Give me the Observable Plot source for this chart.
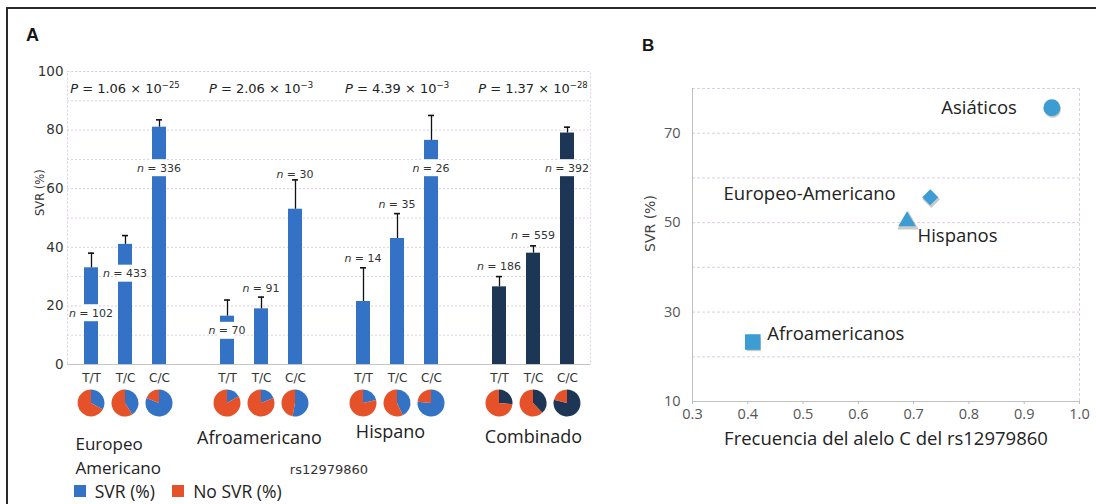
<!DOCTYPE html>
<html><head><meta charset="utf-8">
<script src="https://cdn.jsdelivr.net/npm/d3@7"></script>
<script src="https://cdn.jsdelivr.net/npm/@observablehq/plot@0.6"></script>
<style>
body{margin:0;background:#fff;}
#wrap{position:relative;width:1096px;height:504px;overflow:hidden;background:#fff;}
#border{position:absolute;left:6px;top:7px;right:-4px;bottom:-4px;border-top:2px solid #2a2a2a;border-left:2px solid #2a2a2a;pointer-events:none;}
.panel{position:absolute;top:0;}
#panelA{left:0;} #panelB{left:620px;}
.lbl{position:absolute;font:bold 18px "Liberation Sans",Arial,sans-serif;color:#151515;line-height:normal;}
#legend{position:absolute;left:74px;top:474px;}
</style></head><body>
<div id="wrap">
 <div id="panelA" class="panel"></div>
 <div id="panelB" class="panel"></div>
 <div id="legend"></div>
 <div class="lbl" style="left:26px;top:25px">A</div>
 <div class="lbl" style="left:642px;top:36px;font-size:17px">B</div>
 <div id="border"></div>
</div>
<script>
// ---------- Panel A data ----------
const groupNames = ["Europeo Americano", "Afroamericano", "Hispano", "Combinado"];
const groupLabels = ["Europeo\nAmericano", "Afroamericano", "Hispano", "Combinado"];
const genotypes = ["T/T", "T/C", "C/C"];
const svrPct = [[33, 41, 81], [16.5, 19, 53], [21.5, 43, 76.5], [26.5, 38, 79]];
const svrErrTop = [[38, 44, 83.5], [22, 23, 63], [33, 51.5, 85], [30, 40.5, 81]];
const nPatients = [[102, 433, 336], [70, 91, 30], [14, 35, 26], [186, 559, 392]];
const nLabelAt = [[17.5, 31, 67], [11.5, 26, 65], [36, 54.5, 67], [33.5, 44, 67]];
const pMantissa = ["1.06", "2.06", "4.39", "1.37"];
const pExponent = ["\u221225", "\u22123", "\u22123", "\u221228"];
const legendItems = ["SVR (%)", "No SVR (%)"];
const yTicksA = [0, 20, 40, 60, 80, 100];
const snpLabel = "rs12979860";

// ---------- Panel B data ----------
const populations = ["Asiáticos", "Europeo-Americano", "Hispanos", "Afroamericanos"];
const alleleFreqC = [0.95, 0.73, 0.688, 0.409];
const svrB = [75.7, 55.7, 50.3, 23.3];
const popSymbols = ["circle", "diamond2", "triangle", "square"];
const xTicksB = [0.3, 0.4, 0.5, 0.6, 0.7, 0.8, 0.9, 1.0];
const yTicksB = [10, 30, 50, 70];
const xLabelB = "Frecuencia del alelo C del rs12979860";

// ---------- styles ----------
const BLUE = "#3472c6", NAVY = "#1d3656", ORANGE = "#e5522a", PTBLUE = "#3d9dd3";
const GRID = "#dccfe3";
const fontA = "DejaVu Sans";
const fontC = "Open Sans";

// ---------- Panel A ----------
const rows = [];
groupNames.forEach((g, gi) => genotypes.forEach((gt, j) => rows.push({
  group: g, gi, geno: gt, key: g + "|" + gt,
  svr: svrPct[gi][j], upper: svrErrTop[gi][j], n: nPatients[gi][j], labelAt: nLabelAt[gi][j]
})));
const xDomain = [];
groupNames.forEach((g, gi) => {
  genotypes.forEach(gt => xDomain.push(g + "|" + gt));
  if (gi < groupNames.length - 1) xDomain.push("gap" + gi);
});
const barColor = d => d.gi === 3 ? NAVY : BLUE;
const groupRows = groupNames.map((g, gi) => ({gi, label: groupLabels[gi], first: g + "|T/T", mid: g + "|T/C"}));

function nLabelsMark(index, scales) {
  const g = d3.create("svg:g").attr("font-family", fontA).attr("font-size", 11).attr("fill", "#333");
  const bw = scales.x.bandwidth();
  for (const d of rows) {
    const cx = scales.x(d.key) + bw / 2;
    const cy = scales.y(d.labelAt);
    if (d.labelAt < d.svr) {
      g.append("rect").attr("x", cx - bw / 2 - 1).attr("y", cy - 8.5)
        .attr("width", bw + 2).attr("height", 17).attr("fill", "white");
    }
    const t = g.append("text").attr("x", cx).attr("y", cy).attr("dy", "0.36em").attr("text-anchor", "middle");
    t.append("tspan").attr("font-style", "italic").text("n");
    t.append("tspan").text(" = " + d.n);
  }
  return g.node();
}

function pLabelsMark(index, scales) {
  const g = d3.create("svg:g").attr("font-family", fontA).attr("font-size", 13).attr("fill", "#222");
  const bw = scales.x.bandwidth();
  groupNames.forEach((name, gi) => {
    const cx = scales.x(name + "|T/C") + bw / 2;
    const cy = scales.y(100) + 17;
    const t = g.append("text").attr("x", cx).attr("y", cy).attr("dy", "0.36em").attr("text-anchor", "middle");
    t.append("tspan").attr("font-style", "italic").text("P");
    t.append("tspan").text(" = " + pMantissa[gi] + " \u00d7 10");
    t.append("tspan").attr("font-size", 8.5).attr("dy", "-0.55em").text(pExponent[gi]);
  });
  return g.node();
}

function piesMark(index, scales) {
  const g = d3.create("svg:g");
  const bw = scales.x.bandwidth();
  const arc = d3.arc().innerRadius(0).outerRadius(13.5);
  const pie = d3.pie().sort(null);
  for (const d of rows) {
    const cx = scales.x(d.key) + bw / 2;
    const cy = scales.y(0) + 39;
    const pg = g.append("g").attr("transform", `translate(${cx},${cy})`);
    pg.selectAll("path").data(pie([d.svr, 100 - d.svr])).join("path")
      .attr("d", arc).attr("fill", (p, i) => i === 0 ? barColor(d) : ORANGE);
  }
  return g.node();
}

const plotA = Plot.plot({
  width: 620, height: 504,
  marginLeft: 67, marginRight: 30, marginTop: 71, marginBottom: 140,
  style: {fontFamily: fontA, fontSize: "13px", color: "#333", background: "transparent"},
  x: {type: "band", domain: xDomain, paddingInner: 0.6, paddingOuter: 0.3, axis: null},
  y: {domain: [0, 100], axis: null},
  marks: [
    Plot.gridY(d3.range(10, 101, 10), {stroke: GRID, strokeOpacity: 1, strokeDasharray: "2,2"}),
    Plot.frame({stroke: GRID, strokeDasharray: "2,2"}),
    Plot.ruleY([0], {stroke: "#c4c4c4"}),
    Plot.axisY({ticks: yTicksA, tickSize: 0, tickPadding: 4, fontSize: 13.5, fill: "#333", label: null}),
    Plot.axisX({ticks: rows.map(d => d.key), tickFormat: k => k.split("|")[1], tickSize: 0, tickPadding: 9, fontSize: 12, fill: "#333", label: null}),
    Plot.barY(rows, {x: "key", y: "svr", fill: barColor}),
    Plot.ruleX(rows, {x: "key", y1: "svr", y2: "upper", stroke: "#111", strokeWidth: 1.3}),
    Plot.tickY(rows, {x: "key", y: "upper", stroke: "#111", strokeWidth: 1.6, insetLeft: 4, insetRight: 4}),
    nLabelsMark,
    pLabelsMark,
    piesMark,
    Plot.text(["SVR (%)"], {frameAnchor: "left", rotate: -90, dx: -27, dy: -2, fontSize: 11.5, fill: "#333"}),
    Plot.text(groupRows.filter(d => d.gi === 0), {x: "first", y: () => 0, text: "label", textAnchor: "start", lineAnchor: "top", dx: -16, dy: 68, lineHeight: 1.42, fontFamily: fontC, fontSize: 17, fill: "#222"}),
    Plot.text(groupRows.filter(d => d.gi === 1), {x: "mid", y: () => 0, text: "label", dx: -2, dy: 74, fontFamily: fontC, fontSize: 18, fill: "#222"}),
    Plot.text(groupRows.filter(d => d.gi === 2), {x: "mid", y: () => 0, text: "label", dx: -7, dy: 68, fontFamily: fontC, fontSize: 18, fill: "#222"}),
    Plot.text(groupRows.filter(d => d.gi === 3), {x: "mid", y: () => 0, text: "label", dx: 0, dy: 73, fontFamily: fontC, fontSize: 18, fill: "#222"}),
    Plot.text([snpLabel], {frameAnchor: "bottom", dy: 109, fontSize: 13, fill: "#333"})
  ]
});
document.getElementById("panelA").appendChild(plotA);

const legend = Plot.legend({
  color: {type: "ordinal", domain: legendItems, range: [BLUE, ORANGE]},
  legend: "swatches", swatchSize: 12,
  style: {fontFamily: fontC, fontSize: "17.5px", color: "#222", background: "transparent"}
});
document.getElementById("legend").appendChild(legend);

// ---------- Panel B ----------
const points = populations.map((p, i) => ({name: p, freq: alleleFreqC[i], svr: svrB[i], symbol: popSymbols[i]}));
const byName = n => points.filter(d => d.name === n);
const txt = {fontFamily: fontC, fontSize: 18.5, fill: "#222"};

const plotB = Plot.plot({
  width: 476, height: 504,
  marginLeft: 72, marginRight: 17, marginTop: 88, marginBottom: 103,
  style: {fontFamily: fontC, fontSize: "14px", color: "#555", background: "transparent"},
  x: {domain: [0.3, 1.0], axis: null},
  y: {domain: [10, 80], axis: null},
  marks: [
    Plot.gridY(d3.range(20, 81, 10), {stroke: GRID, strokeOpacity: 1, strokeDasharray: "3,2"}),
    Plot.ruleX([1.0], {stroke: GRID, strokeDasharray: "3,2"}),
    Plot.ruleX([0.3], {stroke: "#c0c0c0"}),
    Plot.ruleY([10], {stroke: "#c0c0c0"}),
    Plot.axisY({ticks: yTicksB, tickSize: 0, tickPadding: 12, fontSize: 14.5, fill: "#555", label: null}),
    Plot.axisX({ticks: xTicksB, tickFormat: d3.format(".1f"), tickSize: 3, tickPadding: 4, fontSize: 14.5, fill: "#555", stroke: "#bbb", label: null}),
    Plot.text(["SVR (%)"], {frameAnchor: "left", rotate: -90, dx: -42, dy: 7, fontFamily: fontA, fontSize: 14, fill: "#444"}),
    Plot.text([xLabelB], {frameAnchor: "bottom", dy: 43, ...txt}),
    Plot.dot(points, {x: "freq", y: "svr", symbol: "symbol", r: 8, fill: "#666", fillOpacity: 0.35, dx: 1, dy: 2}),
    Plot.dot(byName("Asiáticos"), {x: "freq", y: "svr", symbol: "circle", r: 8.5, fill: PTBLUE}),
    Plot.dot(byName("Europeo-Americano"), {x: "freq", y: "svr", symbol: "diamond2", r: 7.2, fill: PTBLUE}),
    Plot.dot(byName("Hispanos"), {x: "freq", y: "svr", symbol: "triangle", r: 6.5, fill: PTBLUE}),
    Plot.dot(byName("Afroamericanos"), {x: "freq", y: "svr", symbol: "square", r: 8.8, fill: PTBLUE}),
    Plot.text(byName("Asiáticos"), {x: "freq", y: "svr", text: "name", textAnchor: "end", dx: -35, dy: 0, ...txt}),
    Plot.text(byName("Europeo-Americano"), {x: "freq", y: "svr", text: "name", textAnchor: "end", dx: -34.5, dy: -3.5, ...txt}),
    Plot.text(byName("Hispanos"), {x: "freq", y: "svr", text: "name", textAnchor: "start", dx: 10.5, dy: 15, ...txt}),
    Plot.text(byName("Afroamericanos"), {x: "freq", y: "svr", text: "name", textAnchor: "start", dx: 14.5, dy: -7.5, ...txt})
  ]
});
document.getElementById("panelB").appendChild(plotB);
</script>
</body></html>
